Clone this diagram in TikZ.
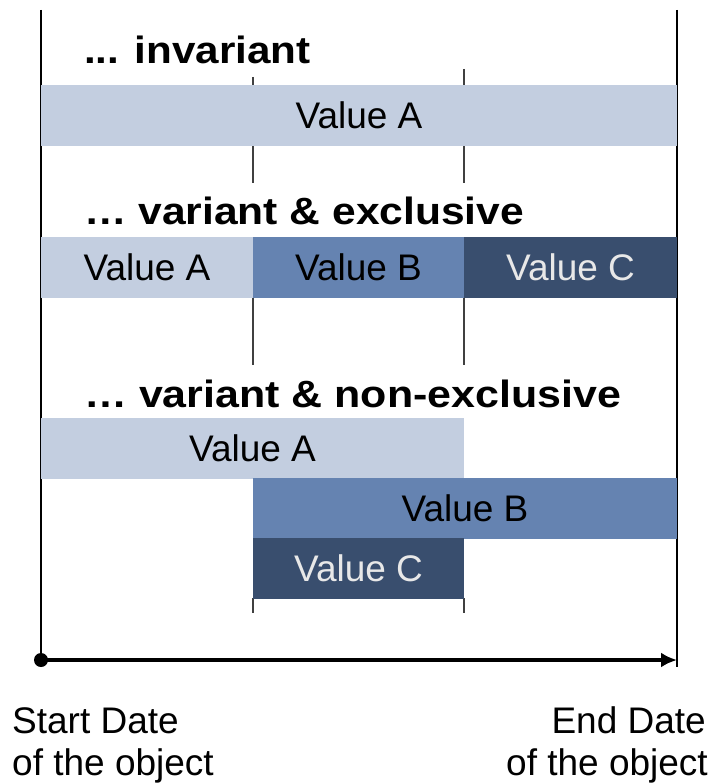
\documentclass[tikz,border=0pt]{standalone}
\usepackage{fontspec}
\setmainfont{Liberation Sans}
\usetikzlibrary{arrows.meta}

\definecolor{barlight}{RGB}{195,206,224}
\definecolor{barmid}{RGB}{101,131,177}
\definecolor{bardark}{RGB}{57,78,110}
\definecolor{tickgray}{RGB}{64,64,64}
\definecolor{palelabel}{RGB}{232,232,232}

\begin{document}
\begin{tikzpicture}[x=1pt,y=-1pt,
  bar/.style={anchor=north west, inner sep=0pt, outer sep=0pt, minimum height=61pt,
              font=\fontsize{37}{42}\selectfont},
  lbl/.style={inner sep=0pt, font=\fontsize{37}{42}\selectfont},
  heading/.style={anchor=base west, inner sep=0pt, font=\bfseries\fontsize{38}{44}\selectfont},
  tickline/.style={draw=tickgray, line width=1.7pt},
  frameline/.style={line width=2.8pt},
  axisline/.style={line width=3.4pt, -{Latex[length=16pt,width=15pt]}}
]
\useasboundingbox (0,0) rectangle (713,783);

% outer bounds of the object's life span
\coordinate (lt) at (41,10);
\coordinate (start) at (41,660);
\coordinate (rt) at (677,10);
\coordinate (rb) at (677,667);
\coordinate (end) at (677,660);
\draw[frameline] (lt) -- (start);
\draw[frameline] (rt) -- (rb);

% guide ticks marking the change dates
\draw[tickline] (464,69) -- (464,85);
\draw[tickline] (253,77) -- (253,85);
\draw[tickline] (253,146) -- (253,183);
\draw[tickline] (464,146) -- (464,183);
\draw[tickline] (253,297) -- (253,365);
\draw[tickline] (464,297) -- (464,365);
\draw[tickline] (253,598) -- (253,613);
\draw[tickline] (464,598) -- (464,613);

% invariant
\node[heading] (h1) at (84,64) {\scalebox{1.11}[1]{... invariant}};
\node[bar, fill=barlight, minimum width=636pt] (invA) at (41,85) {Value A};

% variant & exclusive
\node[heading] (h2) at (84,225) {\scalebox{1.12}[1]{… variant \& exclusive}};
\node[bar, fill=barlight, minimum width=212pt] (exA) at (41,237) {Value A};
\node[bar, fill=barmid, minimum width=211pt] (exB) at (253,237) {Value B};
\node[bar, fill=bardark, minimum width=213pt, text=palelabel] (exC) at (464,237) {Value C};

% variant & non-exclusive
\node[heading] (h3) at (84,407) {\scalebox{1.13}[1]{… variant \& non-exclusive}};
\node[bar, fill=barlight, minimum width=423pt] (neA) at (41,418) {Value A};
\node[bar, fill=barmid, minimum width=424pt] (neB) at (253,478) {Value B};
\node[bar, fill=bardark, minimum width=211pt, text=palelabel] (neC) at (253,538) {Value C};

% time axis
\fill (start) circle (7pt);
\draw[axisline] (start) -- (end);

\node[lbl, anchor=base west] (s1) at (12,733) {Start Date};
\node[lbl, anchor=base west] (s2) at (12,775) {of the object};
\node[lbl, anchor=base east] (e1) at (706,733) {End Date};
\node[lbl, anchor=base east] (e2) at (708,775) {of the object};
\end{tikzpicture}
\end{document}
